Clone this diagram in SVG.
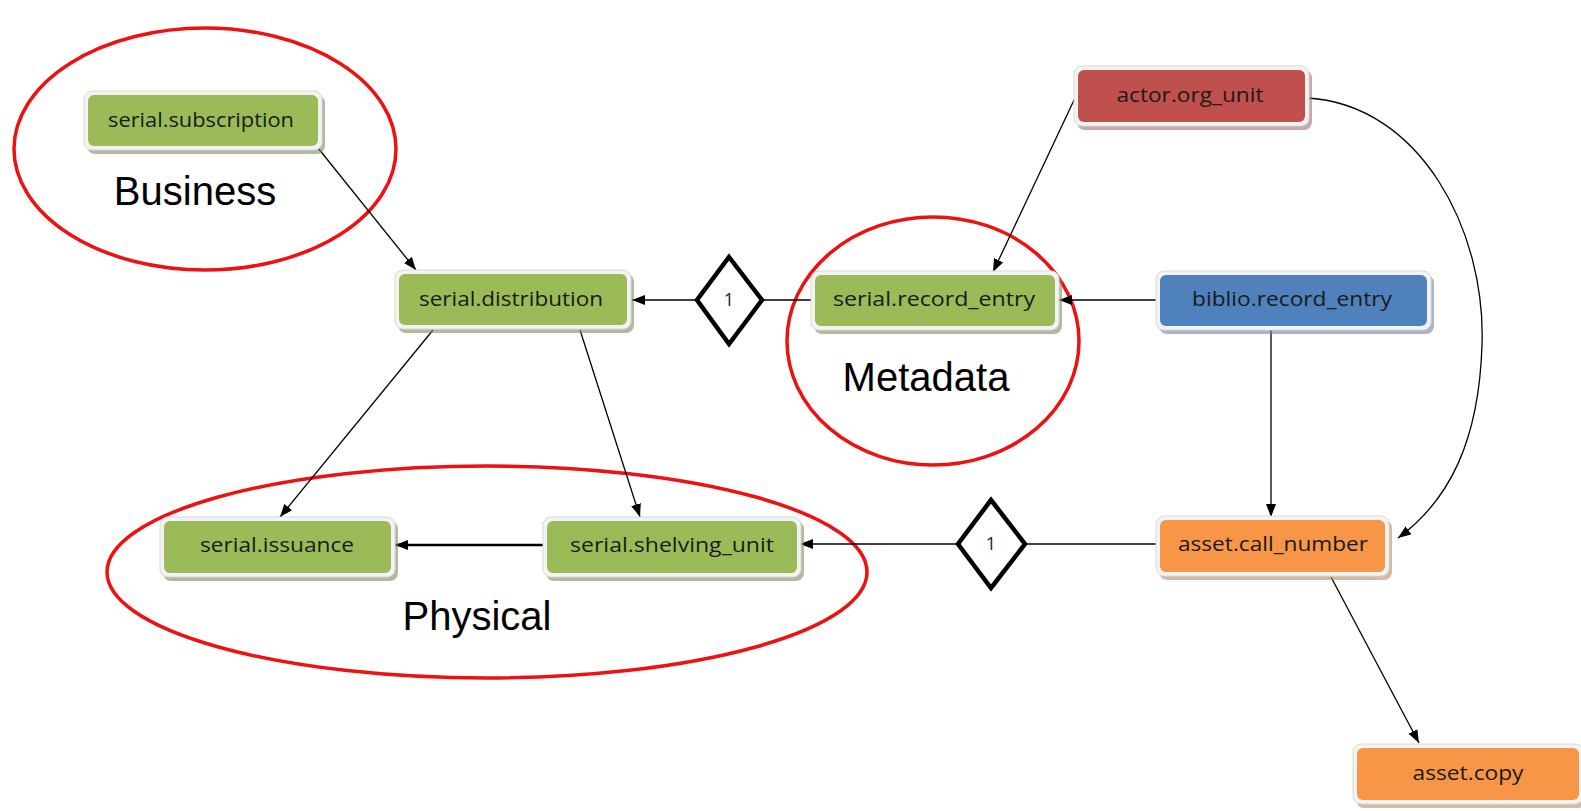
<svg xmlns="http://www.w3.org/2000/svg" width="1581" height="811" viewBox="0 0 1581 811">
<style>
  .frame{fill:#f3f3f3;stroke:#d9d9d9;stroke-width:1}
  .sh{opacity:0.6}
  .lbl{font-family:"Open Sans","DejaVu Sans",sans-serif;font-size:20px;fill:#1a1a1a;text-anchor:middle}
  .big{font-family:"Liberation Sans",Arial,sans-serif;font-size:40px;fill:#000;text-anchor:middle}
  .green{fill:#9bbb59}
  .red{fill:#c0504d}
  .blue{fill:#4f81bd}
  .orange{fill:#f79646}
  .sg{fill:#7d8c62}
  .sr{fill:#a07070}
  .sb{fill:#6f84a0}
  .so{fill:#b88a66}
  .conn{stroke:#000;stroke-width:1.3;fill:none}
  .thick{stroke:#000;stroke-width:2.6;fill:none}
  .dia{fill:#fff;stroke:#000;stroke-width:4.5;stroke-linejoin:miter}
  .one{font-family:"Open Sans","DejaVu Sans",sans-serif;font-size:18px;fill:#1e1e1e;text-anchor:middle}
  .ring{fill:none;stroke:#ee1111;stroke-width:3.5}
</style>
<defs>
  <marker id="arr" markerUnits="userSpaceOnUse" markerWidth="14" markerHeight="12" refX="13" refY="5" orient="auto">
    <path d="M0,0 L13,5 L0,10 z" fill="#000"/>
  </marker>
</defs>
<rect width="1581" height="811" fill="#fff"/>

<g id="ellipses">
  <ellipse class="ring" cx="205" cy="149" rx="191" ry="121"/>
  <ellipse class="ring" cx="933" cy="341" rx="146" ry="124"/>
  <ellipse class="ring" cx="487" cy="572" rx="380" ry="106"/>
</g>

<g id="labels">
  <text class="big" x="195" y="205">Business</text>
  <text class="big" x="926" y="391">Metadata</text>
  <text class="big" x="477" y="630">Physical</text>
</g>

<g id="connectors">
  <line class="conn" x1="318" y1="148" x2="416" y2="270" marker-end="url(#arr)"/>
  <line class="conn" x1="1075" y1="98" x2="993" y2="272" marker-end="url(#arr)"/>
  <path class="conn" d="M1308,98 C1420,105 1486,230 1482,345 C1479,440 1450,500 1398,538" marker-end="url(#arr)"/>
  <line class="conn" x1="697" y1="300" x2="632" y2="300" marker-end="url(#arr)"/>
  <line class="conn" x1="762" y1="300" x2="814" y2="300"/>
  <line class="conn" x1="1160" y1="300" x2="1059" y2="300" marker-end="url(#arr)"/>
  <line class="conn" x1="1271" y1="330" x2="1271" y2="517" marker-end="url(#arr)"/>
  <line class="conn" x1="433" y1="330" x2="280" y2="517" marker-end="url(#arr)"/>
  <line class="conn" x1="580" y1="330" x2="640" y2="517" marker-end="url(#arr)"/>
  <line class="thick" x1="544" y1="545" x2="395" y2="545" marker-end="url(#arr)"/>
  <line class="conn" x1="958" y1="544" x2="800" y2="544" marker-end="url(#arr)"/>
  <line class="conn" x1="1157" y1="544" x2="1025" y2="544"/>
  <line class="conn" x1="1331" y1="577" x2="1419" y2="743" marker-end="url(#arr)"/>
</g>

<g id="diamond1">
  <polygon class="dia" points="729,257 762,300 729,344 697,300"/>
  <text class="one" x="729" y="306">1</text>
</g>
<g id="diamond2">
  <polygon class="dia" points="991,500 1025,544 991,588 958,544"/>
  <text class="one" x="991" y="550">1</text>
</g>

<g id="serial_subscription">
  <rect class="sh sg" x="87" y="95" width="238" height="59" rx="8"/>
  <rect class="frame" x="84" y="91" width="238" height="59" rx="8"/>
  <rect class="green" x="88" y="95" width="230" height="51" rx="6"/>
  <text class="lbl" x="201" y="127" textLength="186" lengthAdjust="spacingAndGlyphs">serial.subscription</text>
</g>

<g id="serial_distribution">
  <rect class="sh sg" x="398" y="274" width="236" height="59" rx="8"/>
  <rect class="frame" x="395" y="270" width="236" height="59" rx="8"/>
  <rect class="green" x="399" y="274" width="228" height="51" rx="6"/>
  <text class="lbl" x="511" y="306" textLength="184" lengthAdjust="spacingAndGlyphs">serial.distribution</text>
</g>

<g id="serial_record_entry">
  <rect class="sh sg" x="814" y="275" width="248" height="59" rx="8"/>
  <rect class="frame" x="811" y="271" width="248" height="59" rx="8"/>
  <rect class="green" x="815" y="275" width="240" height="51" rx="6"/>
  <text class="lbl" x="934" y="306" textLength="202" lengthAdjust="spacingAndGlyphs">serial.record_entry</text>
</g>

<g id="biblio_record_entry">
  <rect class="sh sb" x="1159" y="275" width="275" height="59" rx="8"/>
  <rect class="frame" x="1156" y="271" width="275" height="59" rx="8"/>
  <rect class="blue" x="1160" y="275" width="267" height="51" rx="6"/>
  <text class="lbl" x="1292" y="306" textLength="200" lengthAdjust="spacingAndGlyphs">biblio.record_entry</text>
</g>

<g id="actor_org_unit">
  <rect class="sh sr" x="1077" y="70" width="235" height="60" rx="8"/>
  <rect class="frame" x="1074" y="66" width="235" height="60" rx="8"/>
  <rect class="red" x="1078" y="70" width="227" height="52" rx="6"/>
  <text class="lbl" x="1190" y="102" textLength="147" lengthAdjust="spacingAndGlyphs">actor.org_unit</text>
</g>

<g id="serial_issuance">
  <rect class="sh sg" x="163" y="521" width="235" height="60" rx="8"/>
  <rect class="frame" x="160" y="517" width="235" height="60" rx="8"/>
  <rect class="green" x="164" y="521" width="227" height="52" rx="6"/>
  <text class="lbl" x="277" y="552" textLength="154" lengthAdjust="spacingAndGlyphs">serial.issuance</text>
</g>

<g id="serial_shelving_unit">
  <rect class="sh sg" x="546" y="521" width="258" height="60" rx="8"/>
  <rect class="frame" x="543" y="517" width="258" height="60" rx="8"/>
  <rect class="green" x="547" y="521" width="250" height="52" rx="6"/>
  <text class="lbl" x="672" y="552" textLength="204" lengthAdjust="spacingAndGlyphs">serial.shelving_unit</text>
</g>

<g id="asset_call_number">
  <rect class="sh so" x="1159" y="520" width="233" height="60" rx="8"/>
  <rect class="frame" x="1156" y="516" width="233" height="60" rx="8"/>
  <rect class="orange" x="1160" y="520" width="225" height="52" rx="6"/>
  <text class="lbl" x="1273" y="551" textLength="190" lengthAdjust="spacingAndGlyphs">asset.call_number</text>
</g>

<g id="asset_copy">
  <rect class="sh so" x="1356" y="748" width="230" height="60" rx="8"/>
  <rect class="frame" x="1353" y="744" width="230" height="60" rx="8"/>
  <rect class="orange" x="1357" y="748" width="222" height="52" rx="6"/>
  <text class="lbl" x="1468" y="780" textLength="111" lengthAdjust="spacingAndGlyphs">asset.copy</text>
</g>
</svg>
